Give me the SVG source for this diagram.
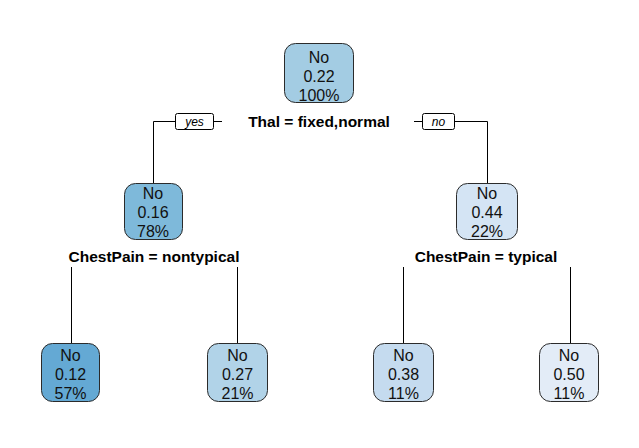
<svg xmlns="http://www.w3.org/2000/svg" width="639" height="448" viewBox="0 0 639 448">
<style>
.node rect{stroke:#2b2b2b;stroke-width:1}
.node text{font-family:"Liberation Sans",Arial,sans-serif;font-size:16px;fill:#111;text-anchor:middle}
.split{font-family:"Liberation Sans",Arial,sans-serif;font-size:15.5px;font-weight:bold;fill:#000;text-anchor:middle}
.lbl rect{fill:#fff;stroke:#000;stroke-width:1}
.lbl text{font-family:"Liberation Sans",Arial,sans-serif;font-size:12px;font-style:italic;fill:#000;text-anchor:middle}
.edges path{fill:none;stroke:#000;stroke-width:1}
</style>
<rect width="639" height="448" fill="#fff"/>
<g class="edges">
<path d="M175.5 121.5H153.5V183"/>
<path d="M214 121.5H222"/>
<path d="M422 121.5H414"/>
<path d="M455 121.5H487.5V183"/>
<path d="M71.5 267V343"/>
<path d="M237.5 267V344"/>
<path d="M403.5 267V344"/>
<path d="M570.5 267V344"/>
</g>
<g id="lbl-yes" class="lbl"><rect x="175.5" y="113.5" width="38" height="16" rx="2"/><text x="194.5" y="126">yes</text></g>
<g id="lbl-no" class="lbl"><rect x="422.5" y="113.5" width="32" height="16" rx="2"/><text x="438.5" y="126">no</text></g>
<text class="split" x="319" y="126.5">Thal = fixed,normal</text>
<text class="split" x="154" y="261.5">ChestPain = nontypical</text>
<text class="split" x="486" y="261.5">ChestPain = typical</text>
<g id="n1" class="node"><rect x="284.5" y="43.5" width="69" height="59" rx="11" fill="#a3cce3"/><text x="319" y="63">No</text><text x="319" y="82">0.22</text><text x="319" y="101">100%</text></g>
<g id="n2" class="node"><rect x="124.5" y="183.5" width="58" height="56" rx="11" fill="#7eb9da"/><text x="153" y="199">No</text><text x="153" y="218">0.16</text><text x="153" y="237">78%</text></g>
<g id="n3" class="node"><rect x="456.5" y="183.5" width="61" height="56" rx="11" fill="#d4e4f4"/><text x="487" y="199">No</text><text x="487" y="218">0.44</text><text x="487" y="237">22%</text></g>
<g id="n4" class="node"><rect x="41.5" y="343.5" width="58" height="58" rx="11" fill="#64a9d4"/><text x="70.5" y="361">No</text><text x="70.5" y="380">0.12</text><text x="70.5" y="399">57%</text></g>
<g id="n5" class="node"><rect x="207.5" y="343.5" width="60" height="58" rx="11" fill="#b1d3e8"/><text x="237.5" y="361">No</text><text x="237.5" y="380">0.27</text><text x="237.5" y="399">21%</text></g>
<g id="n6" class="node"><rect x="373.5" y="343.5" width="60" height="58" rx="11" fill="#c5dbef"/><text x="403.5" y="361">No</text><text x="403.5" y="380">0.38</text><text x="403.5" y="399">11%</text></g>
<g id="n7" class="node"><rect x="539.5" y="343.5" width="59" height="58" rx="11" fill="#e3ecf7"/><text x="569" y="361">No</text><text x="569" y="380">0.50</text><text x="569" y="399">11%</text></g>
</svg>
